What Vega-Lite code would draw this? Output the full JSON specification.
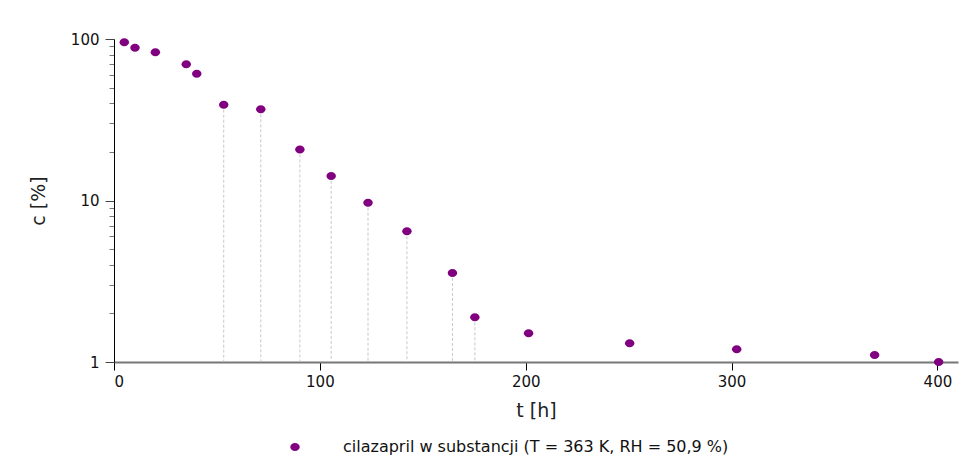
{
  "$schema": "https://vega.github.io/schema/vega-lite/v6.json",
  "width": 844,
  "height": 323,
  "autosize": {"type": "none"},
  "padding": {"left": 114, "top": 39, "right": 3, "bottom": 109},
  "background": "white",
  "config": {
    "font": "DejaVu Sans",
    "view": {"stroke": null}
  },
  "data": {
    "values": [
      {"t": 5, "c": 95.4, "s": "cilazapril w substancji (T = 363 K, RH = 50,9 %)"},
      {"t": 10.2, "c": 88.3, "s": "cilazapril w substancji (T = 363 K, RH = 50,9 %)"},
      {"t": 20.1, "c": 82.7, "s": "cilazapril w substancji (T = 363 K, RH = 50,9 %)"},
      {"t": 35.1, "c": 69.7, "s": "cilazapril w substancji (T = 363 K, RH = 50,9 %)"},
      {"t": 40.2, "c": 61.0, "s": "cilazapril w substancji (T = 363 K, RH = 50,9 %)"},
      {"t": 53.3, "c": 39.2, "s": "cilazapril w substancji (T = 363 K, RH = 50,9 %)"},
      {"t": 71.3, "c": 36.7, "s": "cilazapril w substancji (T = 363 K, RH = 50,9 %)"},
      {"t": 90.3, "c": 20.7, "s": "cilazapril w substancji (T = 363 K, RH = 50,9 %)"},
      {"t": 105.5, "c": 14.2, "s": "cilazapril w substancji (T = 363 K, RH = 50,9 %)"},
      {"t": 123.4, "c": 9.69, "s": "cilazapril w substancji (T = 363 K, RH = 50,9 %)"},
      {"t": 142.3, "c": 6.45, "s": "cilazapril w substancji (T = 363 K, RH = 50,9 %)"},
      {"t": 164.4, "c": 3.56, "s": "cilazapril w substancji (T = 363 K, RH = 50,9 %)"},
      {"t": 175.3, "c": 1.89, "s": "cilazapril w substancji (T = 363 K, RH = 50,9 %)"},
      {"t": 201.4, "c": 1.505, "s": "cilazapril w substancji (T = 363 K, RH = 50,9 %)"},
      {"t": 250.5, "c": 1.305, "s": "cilazapril w substancji (T = 363 K, RH = 50,9 %)"},
      {"t": 302.5, "c": 1.2, "s": "cilazapril w substancji (T = 363 K, RH = 50,9 %)"},
      {"t": 369.5, "c": 1.105, "s": "cilazapril w substancji (T = 363 K, RH = 50,9 %)"},
      {"t": 400.6, "c": 1.0, "s": "cilazapril w substancji (T = 363 K, RH = 50,9 %)"}
    ]
  },
  "layer": [
    {
      "transform": [{"filter": "datum.t > 50 && datum.t < 180"}],
      "mark": {"type": "rule", "color": "#c8c8c8", "strokeDash": [3, 2], "strokeWidth": 1},
      "encoding": {
        "x": {"field": "t", "type": "quantitative", "scale": {"domain": [0, 410], "nice": false}},
        "y": {"field": "c", "type": "quantitative", "scale": {"type": "log", "domain": [1, 100], "nice": false}},
        "y2": {"datum": 1}
      }
    },
    {
      "mark": {"type": "point", "filled": true, "opacity": 1, "size": 90,
        "shape": "M -1 0 A 1 0.84 0 1 0 1 0 A 1 0.84 0 1 0 -1 0 Z"},
      "encoding": {
        "x": {
          "field": "t", "type": "quantitative",
          "scale": {"domain": [0, 410], "nice": false},
          "axis": {
            "values": [0, 100, 200, 300, 400],
            "title": "t [h]",
            "titleFontSize": 19, "titleFontWeight": "normal", "titleColor": "#222",
            "titlePadding": 12,
            "labelFontSize": 15, "labelColor": "#111", "labelPadding": 4,
            "tickSize": 8, "tickColor": "#000", "tickWidth": 1,
            "domainColor": "#777", "domainWidth": 2,
            "grid": false
          }
        },
        "y": {
          "field": "c", "type": "quantitative",
          "scale": {"type": "log", "domain": [1, 100], "nice": false},
          "axis": {
            "values": [1, 2, 3, 4, 5, 6, 7, 8, 9, 10, 20, 30, 40, 50, 60, 70, 80, 90, 100],
            "labelExpr": "(datum.value == 1 || datum.value == 10 || datum.value == 100) ? datum.value : ''",
            "title": "c [%]",
            "titleFontSize": 19, "titleFontWeight": "normal", "titleColor": "#222",
            "titlePadding": 22,
            "labelFontSize": 15, "labelColor": "#111", "labelPadding": 6,
            "tickSize": {"condition": {"test": "datum.value == 1 || datum.value == 10 || datum.value == 100", "value": 9}, "value": 5},
            "tickColor": {"condition": {"test": "datum.value == 1 || datum.value == 10 || datum.value == 100", "value": "#444"}, "value": "#777"},
            "domainColor": "#000", "domainWidth": 1,
            "grid": false
          }
        },
        "color": {
          "field": "s", "type": "nominal",
          "scale": {"range": ["#800080"]},
          "legend": {
            "title": null,
            "orient": "none",
            "legendX": 173,
            "legendY": 400,
            "labelFontSize": 16,
            "labelColor": "#111",
            "labelLimit": 0,
            "labelOffset": 40,
            "symbolSize": 90,
            "symbolType": "M -1 0 A 1 0.84 0 1 0 1 0 A 1 0.84 0 1 0 -1 0 Z"
          }
        }
      }
    }
  ]
}
